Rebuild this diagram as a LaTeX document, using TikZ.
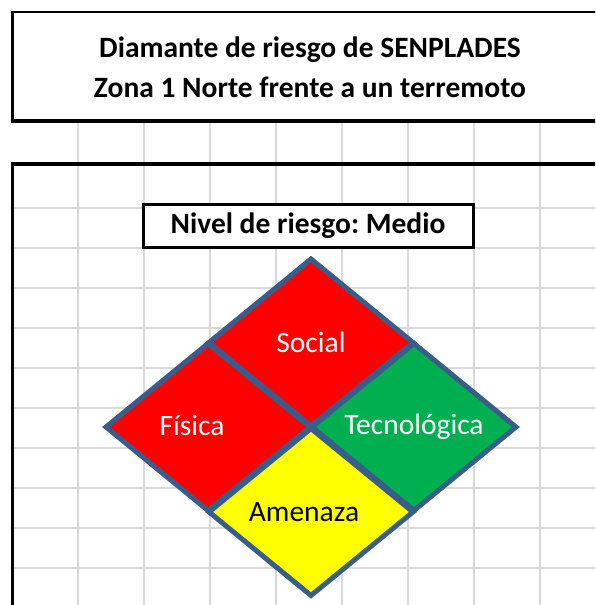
\documentclass[tikz,border=0pt]{standalone}
\usepackage{fontspec}
\setmainfont{Carlito}
\usetikzlibrary{shapes.geometric}
\definecolor{rojo}{RGB}{255,0,0}
\definecolor{verde}{RGB}{0,176,80}
\definecolor{amarillo}{RGB}{255,255,0}
\definecolor{borde}{RGB}{56,93,138}
\definecolor{celda}{RGB}{217,217,217}
\frenchspacing
\begin{document}
\begin{tikzpicture}[x=1pt, y=-1pt,
    texto/.style={font=\fontsize{29.5}{40}\selectfont},
    negrita/.style={font=\fontsize{29.5}{40}\selectfont\bfseries},
    pieza/.style={draw=borde, line width=5pt, shape=diamond, aspect=1.22, inner sep=0pt,
        minimum width=206pt, minimum height=169pt, texto}]
    \clip (0,0) rectangle (595,605);
    \fill[white] (0,0) rectangle (595,605);

    % Cell grid
    \foreach \x in {78,144,...,540} \draw[celda, line width=1.5pt] (\x,121) -- (\x,605);
    \foreach \y in {208,248,...,568} \draw[celda, line width=1.5pt] (12,\y) -- (595,\y);

    % Title box
    \fill[white] (12,12) rectangle (600,121);
    \draw[line width=2pt] (600,12) -- (11,12);
    \draw[line width=3pt] (12,11) -- (12,121);
    \draw[line width=4pt] (10.5,121) -- (600,121);
    \node[negrita, align=center] (titulo) at (310,67) {Diamante de riesgo de SENPLADES\\Zona 1 Norte frente a un terremoto};

    % Lower box
    \draw[line width=4pt] (600,164) -- (10.5,164);
    \draw[line width=3pt] (12,162) -- (12,610);

    % Risk level
    \node[draw, fill=white, line width=3pt, minimum width=330pt, minimum height=43pt, inner sep=0pt, negrita] (nivel) at (308,225.5) {Nivel de riesgo: Medio};

    % Diamond
    \node[pieza, fill=rojo, text=white] (social) at (311,342.5) {Social};
    \node[pieza, fill=rojo, text=white] (fisica) at (208,427) {\hspace*{-32pt}\raisebox{4pt}{Física}};
    \node[pieza, fill=verde, text=white] (tecnologica) at (414,427) {Tecnológica};
    \node[pieza, fill=amarillo] (amenaza) at (311,512) {\hspace*{-14pt}Amenaza};
\end{tikzpicture}
\end{document}
